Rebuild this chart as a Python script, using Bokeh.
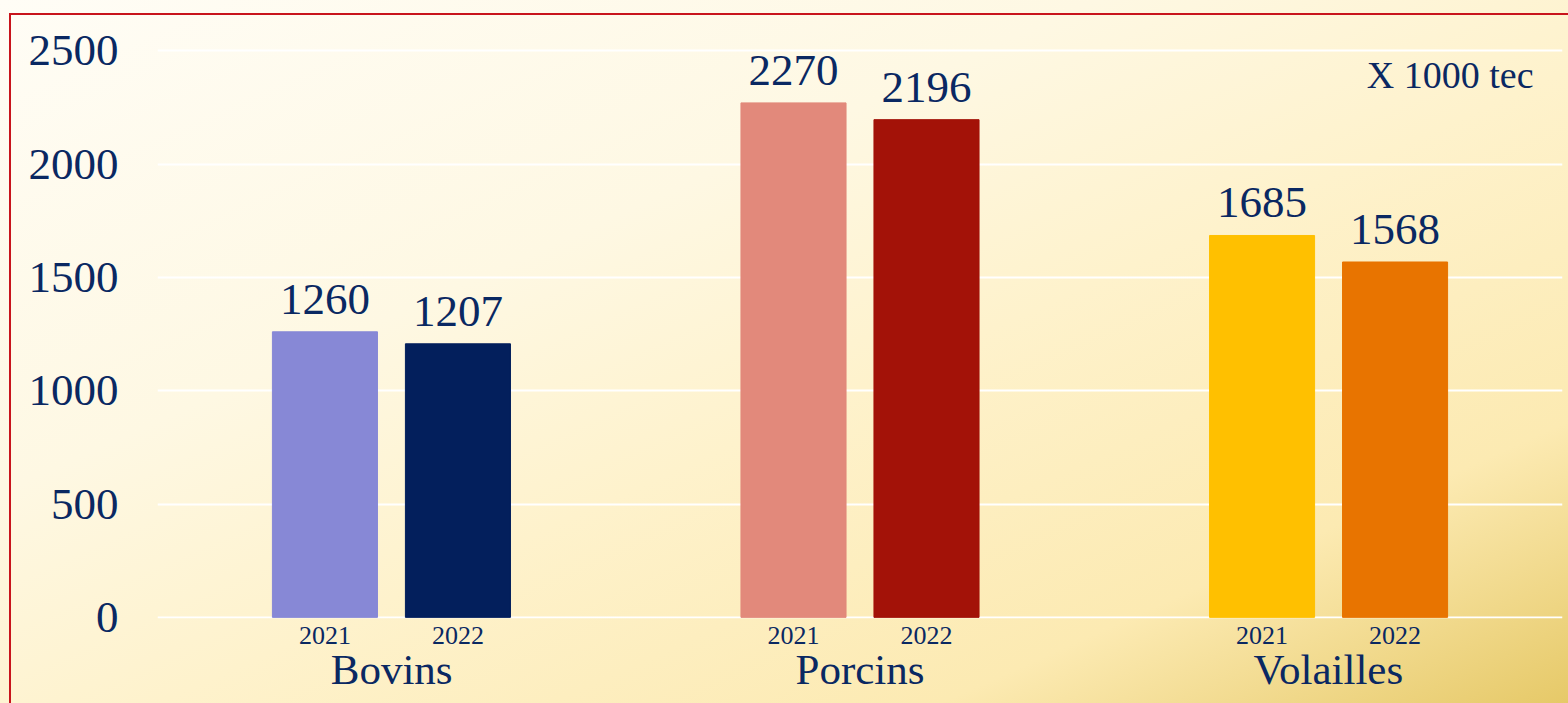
from bokeh.plotting import figure
from bokeh.models import (FactorRange, Range1d, ColumnDataSource, FixedTicker,
                          Label, LabelSet, InlineStyleSheet, CategoricalAxis)
from bokeh.embed import file_html
from bokeh.resources import INLINE

categories = ["Bovins", "Porcins", "Volailles"]
years = ["2021", "2022"]
values_2021 = [1260, 2270, 1685]
values_2022 = [1207, 2196, 1568]
colors_2021 = ["#8788D6", "#E2897B", "#FFC000"]
colors_2022 = ["#031F5C", "#A31208", "#E87400"]
y_ticks = [0, 500, 1000, 1500, 2000, 2500]
unit_label = "X 1000 tec"

TEXT = "#0A2862"
FONT = "Liberation Serif"

xs, vals, cols = [], [], []
for i, c in enumerate(categories):
    for yr, vs, cs in ((years[0], values_2021, colors_2021), (years[1], values_2022, colors_2022)):
        xs.append((c, yr))
        vals.append(vs[i])
        cols.append(cs[i])

src = ColumnDataSource(dict(x=xs, v=vals, c=cols, t=[str(v) for v in vals]))

x_range = FactorRange(*xs, factor_padding=0.0, group_padding=1.523,
                      range_padding=0.1678, range_padding_units="percent")

css = InlineStyleSheet(css=""":host {
  background:
    linear-gradient(#C8141C, #C8141C) 9px 13px / 2px 100% no-repeat,
    linear-gradient(#C8141C, #C8141C) 9px 13px / 100% 2px no-repeat,
    linear-gradient(to bottom right, #FFFDF6 0%, #FEF8E3 35%, #FEF2CC 55%, #FCEAB2 80%, #E6C968 100%);
}""")

p = figure(x_range=x_range, y_range=Range1d(-5, 2510), width=1568, height=703,
           output_backend="svg", toolbar_location=None,
           min_border_left=157, min_border_right=6, min_border_top=48, min_border_bottom=85)
p.stylesheets = [css]
p.background_fill_color = None
p.border_fill_color = None
p.outline_line_color = None
p.extra_x_ranges = {"cats": FactorRange(*categories, range_padding=0)}

p.vbar(x="x", top="v", bottom=0, width=0.79, color="c", source=src)
p.add_layout(LabelSet(x="x", y="v", text="t", source=src, y_offset=18,
                      text_align="center", text_baseline="alphabetic",
                      text_font=FONT, text_font_size="45px", text_color=TEXT))

p.xgrid.grid_line_color = None
p.ygrid.grid_line_color = "white"
p.ygrid.grid_line_width = 2
p.yaxis.ticker = FixedTicker(ticks=y_ticks)

for ax in (p.xaxis, p.yaxis):
    ax.axis_line_color = None
    ax.major_tick_line_color = None
    ax.minor_tick_line_color = None
    ax.major_label_text_color = TEXT
    ax.major_label_text_font = FONT

p.yaxis.major_label_text_font_size = "45px"
p.yaxis.major_label_standoff = 33

p.xaxis.major_label_text_font_size = "26px"
p.xaxis.major_label_standoff = 2
p.xaxis.group_text_font_size = "1px"
p.xaxis.group_text_alpha = 0
p.xaxis.separator_line_alpha = 0

cat_axis = CategoricalAxis(x_range_name="cats", axis_line_color=None,
                           major_tick_line_color=None, minor_tick_line_color=None,
                           major_label_text_font=FONT, major_label_text_font_size="43px",
                           major_label_text_color=TEXT, major_label_standoff=-7)
p.add_layout(cat_axis, "below")

p.add_layout(Label(x=1376, y=544, x_units="screen", y_units="screen", text=unit_label,
                   text_align="right", text_baseline="alphabetic",
                   text_font=FONT, text_font_size="38px", text_color=TEXT))

open("out.html", "w").write(file_html(p, INLINE))
